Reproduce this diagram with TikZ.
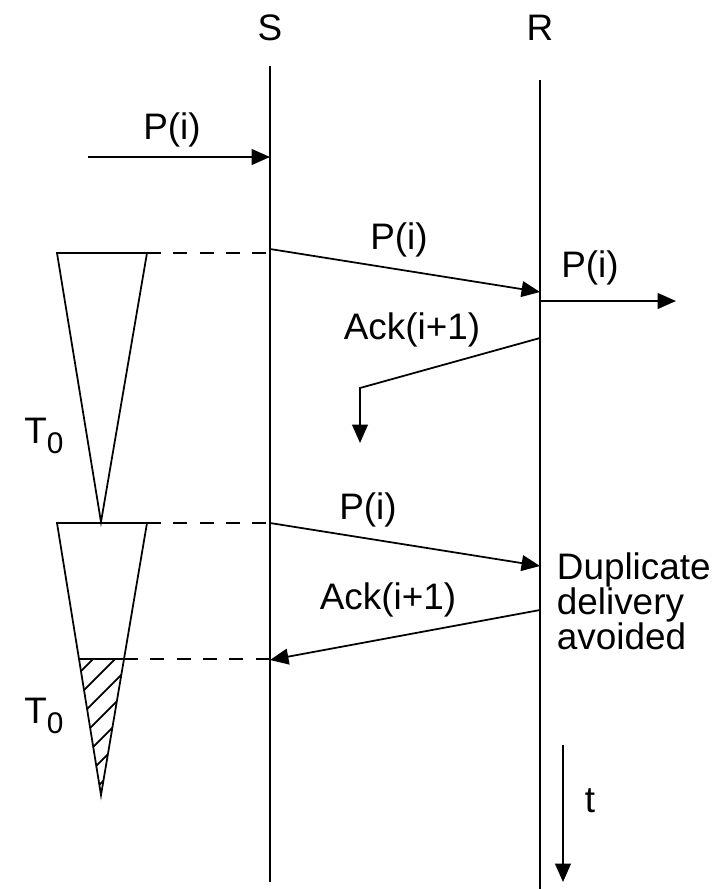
\documentclass[tikz,border=0pt]{standalone}
\usepackage{fontspec}
\setmainfont{Liberation Sans}
\usetikzlibrary{arrows.meta}
\newcommand{\tsub}[1]{T\raisebox{-5.5pt}{\fontsize{17}{17}\selectfont #1}}
\begin{document}
\begin{tikzpicture}[
   x=0.02cm,y=-0.02cm,
   line width=1pt,
   msg/.style={-{Triangle[length=10.5pt,width=9pt]}},
   tmr/.style={dash pattern=on 8pt off 7pt},
   every node/.style={font=\fontsize{21}{23}\selectfont,inner sep=0pt}
 ]
  \useasboundingbox (0,0) rectangle (717,889);
  % time lines
  \node (S) at (270,28) {S};
  \node (R) at (540,28) {R};
  \coordinate (s0) at (270,66);  \coordinate (s1) at (270,882);
  \coordinate (r0) at (540,80);  \coordinate (r1) at (540,889);
  \draw (s0)--(s1);
  \draw (r0)--(r1);

  % packet handed to sender
  \coordinate (in) at (88,157);  \coordinate (sin) at (270,157);
  \draw[msg] (in)--(sin);
  \node (pin) at (172,130) {P(i)};

  % first send, delivered
  \coordinate (sa) at (270,249);  \coordinate (ra) at (540,292);
  \draw[msg] (sa)--(ra);
  \node (pa) at (399,240) {P(i)};
  \coordinate (ro) at (540,301);  \coordinate (out) at (676,301);
  \draw[msg] (ro)--(out);
  \node (pout) at (590,268) {P(i)};

  % lost ack
  \coordinate (rk) at (540,338);  \coordinate (kb) at (360,388);
  \coordinate (kl) at (360,443);
  \draw[msg] (rk)--(kb)--(kl);
  \node (ka) at (412,330) {Ack(i+1)};

  % timers
  \coordinate (ta1) at (57,253);  \coordinate (ta2) at (147,253);
  \coordinate (tav) at (101,522);
  \draw (ta1)--(ta2)--(tav)--cycle;
  \draw[tmr] (ta2)--(sa |- ta2);
  \node (t0a) at (44,436) {\tsub{0}};

  \coordinate (tb1) at (57,523);  \coordinate (tb2) at (147,523);
  \coordinate (tbv) at (101,795);
  \coordinate (hl) at (79,659);   \coordinate (hr) at (124,659);
  \begin{scope}
    \clip (hl)--(hr)--(tbv)--cycle;
    \foreach \y in {662,684,706,728,750,772,794}
      \draw (60,\y+30)--(140,\y-50);
  \end{scope}
  \draw (tb1)--(tb2)--(tbv)--cycle;
  \draw (hl)--(hr);
  \draw[tmr] (tb2)--(270,523);
  \draw[tmr] (hr)--(270,659);
  \node (t0b) at (44,716) {\tsub{0}};

  % retransmission
  \coordinate (sb) at (270,523);  \coordinate (rb) at (540,566);
  \draw[msg] (sb)--(rb);
  \node (pb) at (368,510) {P(i)};
  \coordinate (rk2) at (540,610);  \coordinate (sk2) at (270,660);
  \draw[msg] (rk2)--(sk2);
  \node (kb2) at (388,600) {Ack(i+1)};
  \node[anchor=west,align=left,font=\fontsize{21}{20}\selectfont] (dup) at (556,601)
    {Duplicate\\delivery\\avoided};

  % time axis
  \coordinate (t1) at (563,745);  \coordinate (t2) at (563,882);
  \draw[msg] (t1)--(t2);
  \node (tl) at (590,801) {t};
\end{tikzpicture}
\end{document}
